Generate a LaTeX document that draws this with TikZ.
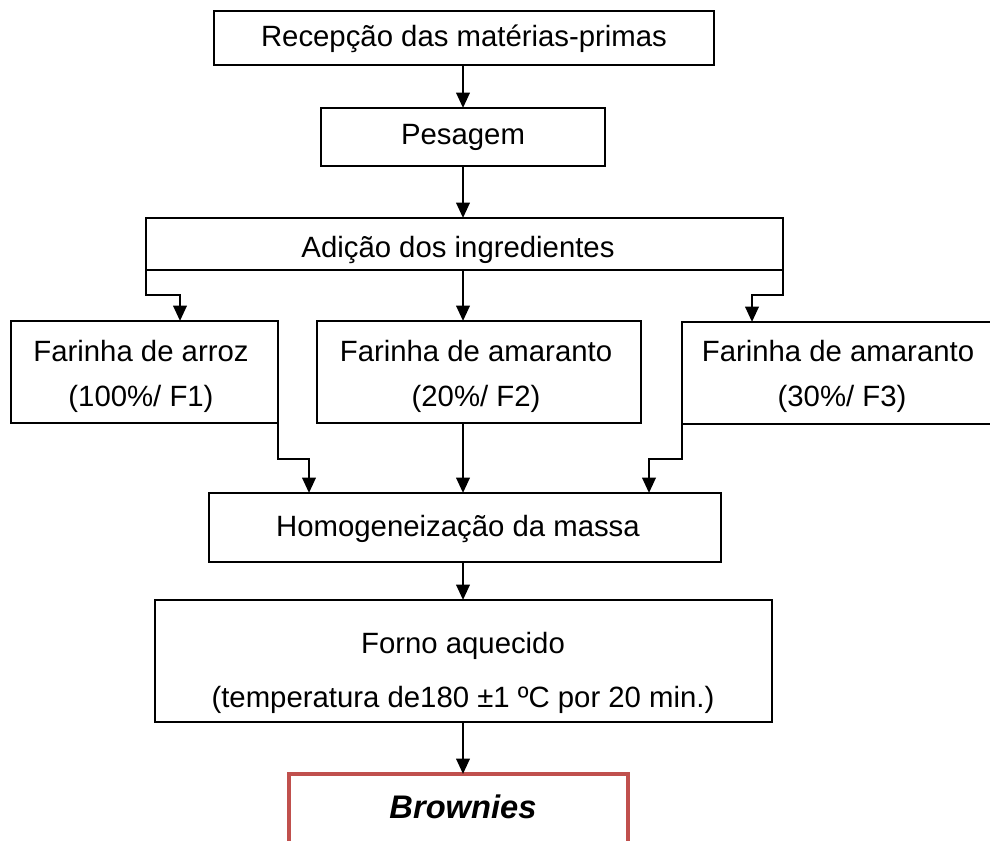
\documentclass[tikz,border=0pt]{standalone}
\usepackage{fontspec}
\setmainfont{Liberation Sans}
\usetikzlibrary{arrows.meta,fit}
\definecolor{boxred}{RGB}{192,80,77}
\begin{document}
\begin{tikzpicture}[x=0.75pt,y=-0.75pt,
  box/.style={draw, line width=1.9pt, inner sep=0pt, outer sep=0pt},
  lbl/.style={font=\fontsize{22}{26}\selectfont, inner sep=0pt, anchor=base},
  arr/.style={line width=1.9pt, -{Triangle[length=11.5pt,width=10pt]}}]
\useasboundingbox (0,0) rectangle (990,841);
% boxes
\node[box, fit={(214,11) (714,65)}] (R) {};
\node[box, fit={(321,108) (605,166)}] (P) {};
\node[box, fit={(146,218) (783,270)}] (A) {};
\node[box, fit={(11,321) (278,423)}] (F1) {};
\node[box, fit={(317,321) (641,423)}] (F2) {};
\node[box, fit={(682,322) (998,424)}] (F3) {};
\node[box, fit={(209,493) (721,562)}] (H) {};
\node[box, fit={(155,600) (772,722)}] (O) {};
\node[box, draw=boxred, line width=3pt, fit={(289,774) (628,860)}] (B) {};
% labels
\node[lbl] (tR) at (464,47) {Recepção das matérias-primas};
\node[lbl] (tP) at (463,145) {Pesagem};
\begin{scope}
\clip (146,218) rectangle (783,268);
\node[lbl] (tA) at (458,258) {Adição dos ingredientes};
\end{scope}
\node[lbl] (tF1a) at (141,362) {Farinha de arroz};
\node[lbl] (tF1b) at (141,407) {(100\%/ F1)};
\node[lbl] (tF2a) at (476,362) {Farinha de amaranto};
\node[lbl] (tF2b) at (476,407) {(20\%/ F2)};
\node[lbl] (tF3a) at (838,362) {Farinha de amaranto};
\node[lbl] (tF3b) at (842,407) {(30\%/ F3)};
\node[lbl] (tH) at (458,537) {Homogeneização da massa};
\node[lbl] (tOa) at (463,653) {Forno aquecido};
\node[lbl] (tOb) at (463,707) {(temperatura de180 ±1 ºC por 20 min.)};
\node[lbl, font=\fontsize{24.5}{28}\selectfont\bfseries\itshape] (tB) at (463,818) {Brownies};
% connector helpers
\coordinate (c1) at (180,295);
\coordinate (c2) at (752,295);
\coordinate (c3) at (309,459);
\coordinate (c4) at (649,459);
\coordinate (m) at (463,0);
% connectors
\draw[arr] (R.south -| m) -- (P.north -| m);
\draw[arr] (P.south -| m) -- (A.north -| m);
\draw[arr] (A.south west) |- (c1) -- (c1 |- F1.north);
\draw[arr] (A.south -| m) -- (F2.north -| m);
\draw[arr] (A.south east) |- (c2) -- (c2 |- F3.north);
\draw[arr] (F1.south east) |- (c3) -- (c3 |- H.north);
\draw[arr] (F2.south -| m) -- (H.north -| m);
\draw[arr] (F3.south west) |- (c4) -- (c4 |- H.north);
\draw[arr] (H.south -| m) -- (O.north -| m);
\draw[arr] (O.south -| m) -- (B.north -| m);
\end{tikzpicture}
\end{document}
